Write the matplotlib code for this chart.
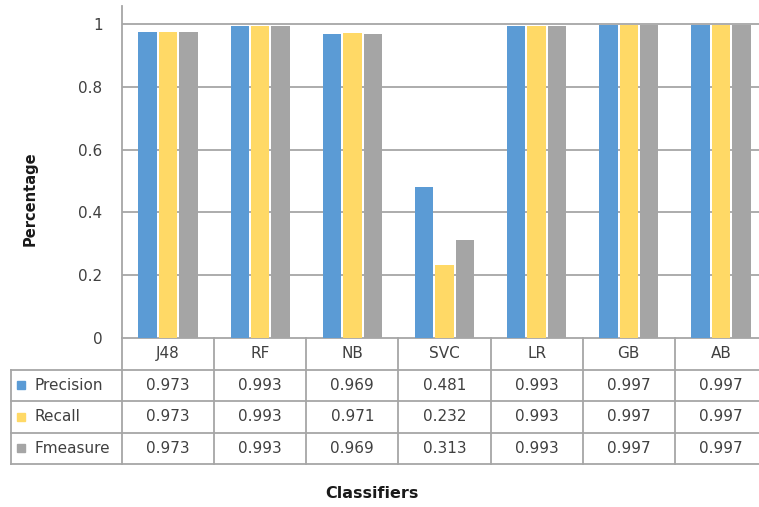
import numpy as np
import matplotlib
matplotlib.use('Agg')
import matplotlib.pyplot as plt
import matplotlib.transforms as mtransforms
from matplotlib.patches import Rectangle

# Wyniki klasyfikatorów
classifiers = ['J48', 'RF', 'NB', 'SVC', 'LR', 'GB', 'AB']
precision = [0.973, 0.993, 0.969, 0.481, 0.993, 0.997, 0.997]
recall = [0.973, 0.993, 0.971, 0.232, 0.993, 0.997, 0.997]
fmeasure = [0.973, 0.993, 0.969, 0.313, 0.993, 0.997, 0.997]
series_names = ['Precision', 'Recall', 'Fmeasure']
yticks = [0, 0.2, 0.4, 0.6, 0.8, 1]
ytick_labels = ['0', '0.2', '0.4', '0.6', '0.8', '1']

colors = ['#5b9bd5', '#ffd966', '#a5a5a5']
line_col = '#a6a6a6'

W, H = 759, 507
fig = plt.figure(figsize=(W / 100, H / 100), dpi=100)

# obszar wykresu w pikselach (wychodzi trochę poza prawą krawędź)
x0, x1 = 122, 767
y_top, y_zero = 6, 338
ax = fig.add_axes([x0 / W, 1 - y_zero / H, (x1 - x0) / W, (y_zero - y_top) / H])

series = [precision, recall, fmeasure]
x = np.arange(len(classifiers))
step = 0.222
for i, (vals, col) in enumerate(zip(series, colors)):
    ax.bar(x + (i - 1) * step, vals, width=0.2, color=col, zorder=3)

ax.set_xlim(-0.5, len(classifiers) - 0.5)
ax.set_ylim(0, 1.057)
ax.set_yticks(yticks)
ax.set_yticklabels(ytick_labels, fontsize=11, color='#404040')
ax.tick_params(axis='y', length=0, pad=14)
ax.set_xticks([])
for g in yticks[1:]:
    ax.axhline(g, color=line_col, lw=1.3, zorder=1)
for s in ['top', 'right', 'bottom']:
    ax.spines[s].set_visible(False)
ax.spines['left'].set_color(line_col)
ax.spines['left'].set_linewidth(1.3)

# tabela danych pod osią X: x w jednostkach danych, y w pikselach od góry
px_per_cat = (x1 - x0) / len(classifiers)
ypx = mtransforms.Affine2D().scale(1, -1).translate(0, H)
trans = mtransforms.blended_transform_factory(ax.transData, ypx)
left_edge = -0.5 - (x0 - 11) / px_per_cat

rows_y = [338, 369.5, 401, 432.5, 464]
lk = dict(color=line_col, lw=1.3, transform=trans, clip_on=False)

# linie poziome
ax.plot([-0.5, len(classifiers) - 0.5], [rows_y[0]] * 2, **lk)
for yy in rows_y[1:]:
    ax.plot([left_edge, len(classifiers) - 0.5], [yy] * 2, **lk)
# linie pionowe
for k in range(len(classifiers) + 1):
    ax.plot([k - 0.5] * 2, [rows_y[0], rows_y[-1]], **lk)
ax.plot([left_edge] * 2, [rows_y[1], rows_y[-1]], **lk)

txt = dict(transform=trans, ha='center', va='center', fontsize=11,
           color='#404040', clip_on=False)
for k, name in enumerate(classifiers):
    ax.text(k, (rows_y[0] + rows_y[1]) / 2, name, **txt)

for r, (name, vals, col) in enumerate(zip(series_names, series, colors)):
    yc = (rows_y[r + 1] + rows_y[r + 2]) / 2
    for k, v in enumerate(vals):
        ax.text(k, yc, f'{v:.3f}', **txt)
    # znacznik legendy
    sq = 8 / px_per_cat
    ax.add_patch(Rectangle((left_edge + 6 / px_per_cat, yc - 4), sq, 8,
                           color=col, transform=trans, clip_on=False))
    ax.text(left_edge + 24 / px_per_cat, yc, name, transform=trans,
            ha='left', va='center', fontsize=11, color='#404040', clip_on=False)

fig.text(30 / W, 1 - 199 / H, 'Percentage', rotation=90, ha='center',
         va='center', fontsize=10.5, fontweight='bold', color='#1a1a1a')
fig.text(372 / W, 1 - 494 / H, 'Classifiers', ha='center', va='center',
         fontsize=11.5, fontweight='bold', color='#1a1a1a')

fig.savefig('out.png', dpi=100, facecolor='white')
